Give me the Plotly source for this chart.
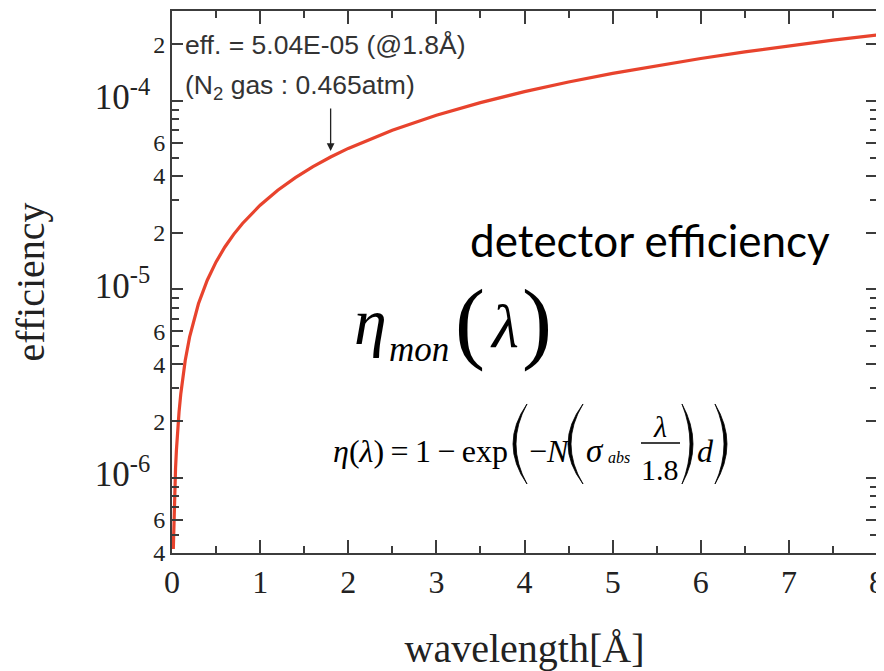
import plotly.graph_objects as go
import math

# ---- data ----
wavelength = [0.015, 0.02, 0.025, 0.03, 0.04, 0.05, 0.06, 0.08, 0.1, 0.12, 0.15, 0.2, 0.25,
              0.3, 0.4, 0.5, 0.6, 0.7, 0.8, 1.0, 1.2, 1.4, 1.6, 1.8, 2.0, 2.5, 3.0, 3.5,
              4.0, 4.5, 5.0, 5.5, 6.0, 6.5, 7.0, 7.5, 8.0]
efficiency = [4.2e-7, 5.6e-7, 7.0e-7, 8.4e-7, 1.12e-6, 1.4e-6, 1.68e-6, 2.24e-6, 2.8e-6,
              3.36e-6, 4.2e-6, 5.6e-6, 7.0e-6, 8.4e-6, 1.12e-5, 1.4e-5, 1.68e-5, 1.96e-5,
              2.24e-5, 2.8e-5, 3.36e-5, 3.92e-5, 4.48e-5, 5.04e-5, 5.6e-5, 7.0e-5, 8.4e-5,
              9.8e-5, 1.12e-4, 1.26e-4, 1.4e-4, 1.54e-4, 1.68e-4, 1.82e-4, 1.96e-4,
              2.1e-4, 2.24e-4]

x_major = [0, 1, 2, 3, 4, 5, 6, 7, 8]
x_minor = [0.5, 1.5, 2.5, 3.5, 4.5, 5.5, 6.5, 7.5]
y_labeled = [4e-7, 6e-7, 1e-6, 2e-6, 4e-6, 6e-6, 1e-5, 2e-5, 4e-5, 6e-5, 1e-4, 2e-4]
y_labels_mant = ["4", "6", "-6", "2", "4", "6", "-5", "2", "4", "6", "-4", "2"]
y_minor = [5e-7, 7e-7, 8e-7, 9e-7, 3e-6, 5e-6, 7e-6, 8e-6, 9e-6,
           3e-5, 5e-5, 7e-5, 8e-5, 9e-5, 3e-4]

marked_wavelength = 1.8
marked_eff = 5.04e-5

# ---- layout geometry (page has an 8px default body margin) ----
OFF = 8
W, H = 884 - OFF, 671 - OFF
L, R, T, B = 172 - OFF, 7, 11 - OFF, 118
PW, PH = W - L - R, H - T - B


def px(x):
    return (x - OFF - L) / PW


def py(y):
    return (H - B - (y - OFF)) / PH


def ylabel(m):
    if m.startswith("-"):
        return ('<span style="font-size:35px">10<sup>%s</sup></span>'
                '<span style="font-size:30px">\u2002</span>' % m)
    return m


AX = "#3c3c3c"
SERIF = "Liberation Serif"

fig = go.Figure()
fig.add_trace(go.Scatter(
    x=wavelength, y=efficiency, mode="lines",
    line=dict(color="#e8432d", width=3.2),
    showlegend=False, hoverinfo="skip"))

fig.update_layout(
    width=W, height=H,
    margin=dict(l=L, r=R, t=T, b=B, autoexpand=False),
    paper_bgcolor="white", plot_bgcolor="white",
    font=dict(family=SERIF, color="#222"),
    xaxis=dict(
        range=[0, 8], tickvals=x_major, ticktext=[str(v) for v in x_major],
        ticks="inside", ticklen=13, tickwidth=1.6, tickcolor=AX,
        minor=dict(tickvals=x_minor, ticks="inside", ticklen=7, tickwidth=1.6, tickcolor=AX),
        showline=True, linecolor=AX, linewidth=2, mirror="ticks",
        showgrid=False, zeroline=False, automargin=False,
        tickfont=dict(family=SERIF, size=32, color="#222"),
        ticklabelstandoff=0, ticklabeloverflow="allow",
        title=dict(text="wavelength[Å]", font=dict(family=SERIF, size=40, color="#222"),
                   standoff=40),
    ),
    yaxis=dict(
        type="log", range=[math.log10(4e-7), math.log10(3e-4)],
        tickvals=y_labeled, ticktext=[ylabel(m) for m in y_labels_mant],
        ticks="inside", ticklen=11, tickwidth=1.6, tickcolor=AX,
        minor=dict(tickvals=y_minor, ticks="inside", ticklen=7, tickwidth=1.6, tickcolor=AX),
        showline=True, linecolor=AX, linewidth=2, mirror="ticks",
        showgrid=False, zeroline=False, automargin=False,
        tickfont=dict(family=SERIF, size=24, color="#222"),
        ticklabeloverflow="allow",
        title=dict(text="efficiency", font=dict(family=SERIF, size=40, color="#222"),
                   standoff=52),
    ),
)

ann = []


def text(s, x, y, size, family=SERIF, xanchor="left", color="#111"):
    ann.append(dict(text=s, x=px(x), y=py(y), xref="paper", yref="paper",
                    xanchor=xanchor, yanchor="middle", showarrow=False,
                    font=dict(family=family, size=size, color=color)))


# top-left note + arrow
SANS = "Liberation Sans"
text("eff. = 5.04E-05 (@1.8Å)", 183, 45, 26.5, SANS, color="#333")
text("(N<sub>2</sub> gas : 0.465atm)", 183, 87, 26.5, SANS, color="#333")
ann.append(dict(x=marked_wavelength, y=math.log10(marked_eff), xref="x", yref="y",
                ax=0, ay=-50, axref="pixel", ayref="pixel", text="", showarrow=True,
                arrowhead=2, arrowsize=1.2, arrowwidth=1.3, arrowcolor="#222", standoff=6))

# detector efficiency
text("detector efficiency", 468, 240, 44, "Lato", color="#000")

# eta_mon(lambda)
text("<i>η</i>", 352, 321, 66, color="#000")
text("<i>mon</i>", 387, 349, 35, color="#000")
text("(", 470, 322, 90, xanchor="center", color="#000")
text("<i>λ</i>", 488, 326, 62, color="#000")
text(")", 537, 322, 90, xanchor="center", color="#000")

# formula
FS = 32
TS = "\u2009"
text("<i>η</i>(<i>λ</i>)" + TS + "=" + TS + "1" + TS + "−" + TS + "exp", 510, 451, FS,
     xanchor="right", color="#000")
text("−<i>N</i>", 527, 451, FS, color="#000")
text("<i>σ</i>", 584, 451, FS + 1, color="#000")
text("<i>abs</i>", 606, 457, 16, color="#000")
text("<i>λ</i>", 660, 426, 30, xanchor="center", color="#000")
text("1.8", 660, 469, 30, xanchor="center", color="#000")
text("<i>d</i>", 705, 451, FS, xanchor="center", color="#000")

fig.update_layout(annotations=ann)
fig.add_shape(type="line", xref="paper", yref="paper",
              x0=px(641), x1=px(680), y0=py(443), y1=py(443),
              line=dict(color="#000", width=1.5))


def paren(x_end, x_outer, x_inner, y0, y1):
    """Crescent-shaped parenthesis drawn as a filled path (pixel geometry)."""
    ym = (y0 + y1) / 2
    co = 2 * x_outer - x_end
    ci = 2 * x_inner - x_end
    p = "M %f,%f Q %f,%f %f,%f Q %f,%f %f,%f Z" % (
        px(x_end), py(y0), px(co), py(ym), px(x_end), py(y1),
        px(ci), py(ym), px(x_end), py(y0))
    fig.add_shape(type="path", xref="paper", yref="paper", path=p,
                  fillcolor="#000", line=dict(color="#000", width=0.8))


paren(527, 513, 516, 404, 484)
paren(583, 568, 571, 404, 484)
paren(682, 693, 690, 404, 484)
paren(715, 727, 724, 404, 484)

fig.write_html("out.html")
